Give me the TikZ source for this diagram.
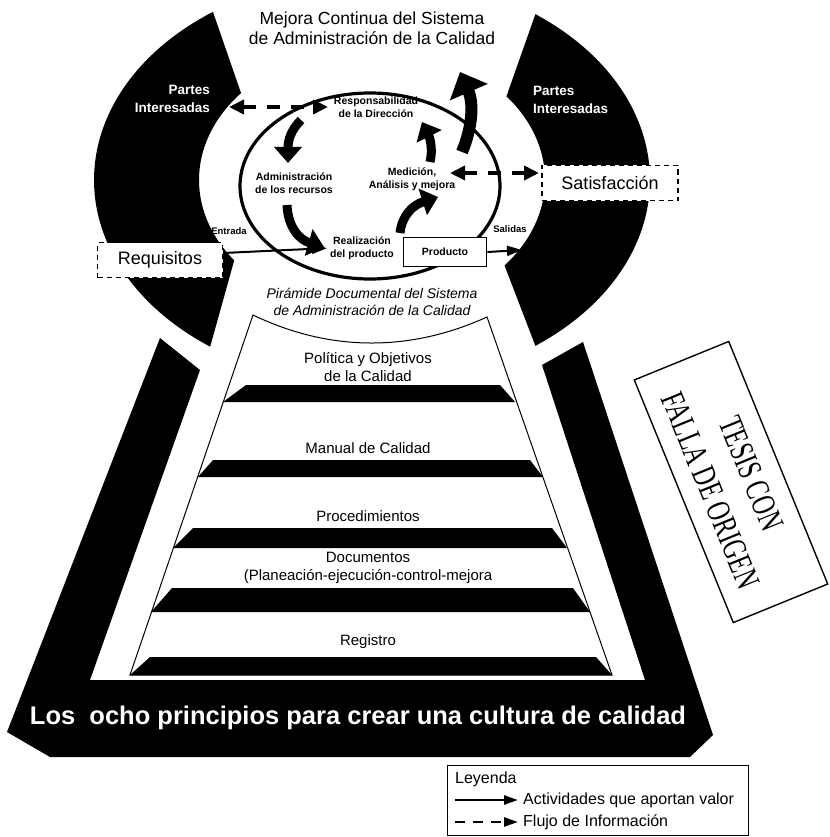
\documentclass[tikz,border=0pt]{standalone}
\usepackage{fontspec}
\setmainfont{Liberation Sans}
\newfontfamily\stampfont{Liberation Serif}
\usetikzlibrary{arrows.meta,shapes.geometric}

\begin{document}
\begin{tikzpicture}[x=1pt,y=-1pt,
  every node/.style={inner sep=0pt, align=center},
  titletext/.style={font=\fontsize{17.5}{20}\selectfont},
  parttext/.style={font=\bfseries\fontsize{13.5}{18}\selectfont, text=white},
  proclabel/.style={font=\bfseries\fontsize{10.5}{12.5}\selectfont},
  smalllabel/.style={font=\bfseries\fontsize{9.5}{10}\selectfont},
  boxtext/.style={font=\fontsize{18}{20}\selectfont},
  dashbox/.style={draw, fill=white, line width=1.6pt, dash pattern=on 5pt off 4pt, minimum height=35pt},
  leveltext/.style={font=\fontsize{15}{18}\selectfont},
  pyrtitle/.style={font=\itshape\fontsize{14}{17}\selectfont},
  legendtext/.style={font=\fontsize{16}{18}\selectfont, anchor=west},
  valarrow/.style={line width=9pt, -{Triangle[length=16pt,width=27pt]}},
  bigvalarrow/.style={line width=12pt, -{Triangle[length=22pt,width=40pt]}},
  infoarrow/.style={line width=4pt, dash pattern=on 13pt off 11pt,
    {Triangle[length=15pt,width=14pt]}-{Triangle[length=15pt,width=14pt]}},
  flowarrow/.style={line width=2pt, -{Triangle[length=15pt,width=10pt]}},
  docbar/.style={fill=black},
]
\useasboundingbox[fill=white] (0,0) rectangle (829,837);

% ---- interested parties: two arcs of an elliptical ring ----
\fill[black] plot[domain=125.6:235.1, samples=60] ({372+278*cos(\x)},{180+205*sin(\x)})
  -- plot[domain=220.8:142.8, samples=60] ({372+173*cos(\x)},{180+133*sin(\x)}) -- cycle;
\fill[black] plot[domain=-54:54, samples=60] ({372+278*cos(\x)},{180+205*sin(\x)})
  -- plot[domain=40:-39, samples=60] ({372+173*cos(\x)},{180+133*sin(\x)}) -- cycle;

% ---- frame around the documentary pyramid ----
\fill[black] (160,338) -- (7,732) -- (50,757) -- (690,757) -- (713,735) -- (583,342)
  -- (542,365) -- (645,680) -- (90,680) -- (200,370) -- cycle;

% ---- title ----
\node[titletext] (title) at (372,28) {Mejora Continua del Sistema\\de Administración de la Calidad};

% ---- process cycle ----
\node[ellipse, draw, line width=3.2pt, minimum width=260pt, minimum height=186pt] (proc) at (370,186) {};

\node[parttext, anchor=east, align=right] (pl) at (210,99) {Partes\\Interesadas};
\node[parttext, anchor=west, align=left] (pr) at (533,100) {Partes\\Interesadas};

\node[proclabel] (resp) at (376,107) {Responsabilidad\\de la Dirección};
\node[proclabel] (adm) at (294,183) {Administración\\de los recursos};
\node[proclabel] (med) at (412,179) {Medición,\\Análisis y mejora};
\node[proclabel] (real) at (362,248) {Realización\\del producto};
\node[draw, line width=1.8pt, fill=white, minimum width=83pt, minimum height=29pt,
      font=\bfseries\fontsize{10.5}{12}\selectfont] (prod) at (445,252) {Producto};

\node[dashbox, boxtext, minimum width=125pt] (req) at (160,260) {Requisitos};
\node[dashbox, boxtext, minimum width=136pt] (sat) at (610,183) {Satisfacción};

\node[smalllabel] (entrada) at (229,231) {Entrada};
\node[smalllabel] (salidas) at (510,229) {Salidas};

% value-adding activities
\draw[valarrow] (301,120) .. controls (291,130) and (288,140) .. (288,163);
\draw[valarrow] (287,205) .. controls (288,228) and (300,240) .. (324,247);
\draw[valarrow] (400,233) .. controls (402,215) and (413,205) .. (438,197);
\draw[valarrow] (430,162) .. controls (433,150) and (430,138) .. (422,122);
\draw[bigvalarrow] (462,152) .. controls (472,128) and (474,104) .. (460,72);

% information flow
\coordinate (ia) at (229,107);
\coordinate (ib) at (328,107);
\coordinate (ic) at (450,173);
\coordinate (id) at (539,173);
\draw[infoarrow] (ia) -- (ib);
\draw[infoarrow] (ic) -- (id);

% inputs and outputs
\coordinate (out) at (522,250);
\draw[flowarrow, shorten >=3pt] ([yshift=7pt]req.east) -- (real.west);
\draw[flowarrow] (prod.east) -- (out);

% ---- documentary pyramid ----
\node[pyrtitle] (ptitle) at (372,302) {Pirámide Documental del Sistema\\de Administración de la Calidad};
\draw[line width=1pt] (253,315) .. controls (330,352) and (410,352) .. (487,317)
  -- (612,675) -- (130,675) -- cycle;

\fill[docbar] (223,402) -- (246,385) -- (500,385) -- (515,402) -- cycle;
\fill[docbar] (198,477) -- (213,460) -- (530,460) -- (543,477) -- cycle;
\fill[docbar] (173,548) -- (193,528) -- (552,528) -- (567,548) -- cycle;
\fill[docbar] (151,612) -- (172,588) -- (573,588) -- (590,612) -- cycle;
\fill[docbar] (130,675) -- (150,657) -- (596,657) -- (612,675) -- cycle;

\node[leveltext] (lv1) at (368,367) {Política y Objetivos\\de la Calidad};
\node[leveltext] (lv2) at (368,448) {Manual de Calidad};
\node[leveltext] (lv3) at (368,516) {Procedimientos};
\node[leveltext] (lv4) at (368,568) {Documentos\\(Planeación-ejecución-control-mejora};
\node[leveltext] (lv5) at (368,642) {Registro};

\node[font=\bfseries\fontsize{25.5}{28}\selectfont, text=white] (principles) at (358,718)
  {Los~ ocho principios para crear una cultura de calidad};

% ---- stamp ----
\node[draw, line width=1.4pt, rotate=-67.8, minimum width=262pt, minimum height=102pt,
      font=\stampfont\fontsize{34}{44}\selectfont] (stamp) at (731,482)
  {\scalebox{0.7}[1]{TESIS CON}\\\scalebox{0.7}[1]{FALLA DE ORIGEN}};

% ---- legend ----
\node[draw, line width=1pt, minimum width=301pt, minimum height=70pt] (legend) at (597.5,800) {};
\node[legendtext] (legtitle) at (455,779) {Leyenda};
\coordinate (la) at (455,800);
\coordinate (lb) at (518,800);
\coordinate (lc) at (455,822);
\coordinate (ld) at (518,822);
\draw[line width=2.5pt, -{Triangle[length=14pt,width=9pt]}] (la) -- (lb);
\draw[line width=2.5pt, dash pattern=on 10pt off 8pt, -{Triangle[length=14pt,width=9pt]}] (lc) -- (ld);
\node[legendtext] (legval) at (523,800) {Actividades que aportan valor};
\node[legendtext] (leginfo) at (523,822) {Flujo de Información};
\end{tikzpicture}
\end{document}
